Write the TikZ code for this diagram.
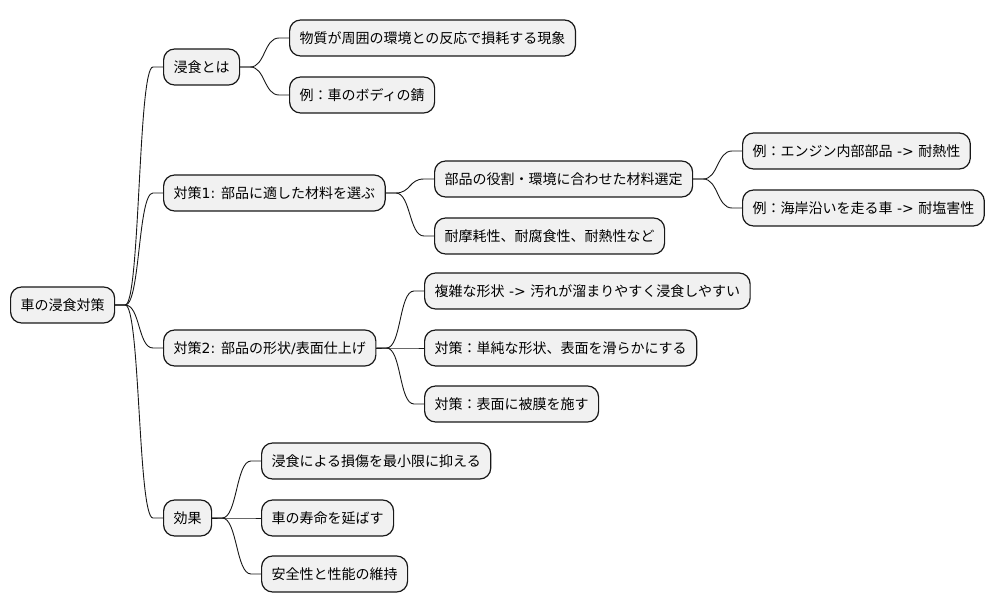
\documentclass[tikz,border=0pt]{standalone}
\usepackage{fontspec}
\setmainfont{Noto Sans CJK JP}
\newfontfamily\lat{DejaVu Sans}
\definecolor{boxfill}{HTML}{F1F1F1}
\definecolor{boxline}{HTML}{181818}
\tikzset{
  mmbox/.style={draw=boxline, fill=boxfill, line width=1.2pt, rounded corners=11pt,
    minimum height=36pt, inner xsep=10pt, inner ysep=0pt, anchor=west,
    font=\fontsize{14pt}{16pt}\selectfont, text=black},
  mmlink/.style={draw=boxline, line width=0.9pt}
}
\newcommand{\mmconn}[2]{\draw[mmlink] (#1.east) -- ++(10,0) .. controls +(15,0) and +(-15,0) .. ($(#2.west)+(-10,0)$) -- (#2.west);}
\usetikzlibrary{calc}
\begin{document}
\begin{tikzpicture}[x=1pt,y=-1pt]
\useasboundingbox (0,0) rectangle (994,612);
\node[mmbox] (root) at (10,305) {車の浸食対策};
\node[mmbox] (a) at (163,67) {浸食とは};
\node[mmbox] (a1) at (289,38) {物質が周囲の環境との反応で損耗する現象};
\node[mmbox] (a2) at (289,95) {例：車のボディの錆};
\node[mmbox] (b) at (163,193) {対策{\lat 1: }部品に適した材料を選ぶ};
\node[mmbox] (b1) at (434,179) {部品の役割・環境に合わせた材料選定};
\node[mmbox] (b11) at (742,151) {例：エンジン内部部品{\lat{} -> }耐熱性};
\node[mmbox] (b12) at (742,208) {例：海岸沿いを走る車{\lat{} -> }耐塩害性};
\node[mmbox] (b2) at (434,236) {耐摩耗性、耐腐食性、耐熱性など};
\node[mmbox] (c) at (163,348) {対策{\lat 2: }部品の形状{\lat /}表面仕上げ};
\node[mmbox] (c1) at (424,291) {複雑な形状{\lat{} -> }汚れが溜まりやすく浸食しやすい};
\node[mmbox] (c2) at (424,348) {対策：単純な形状、表面を滑らかにする};
\node[mmbox] (c3) at (424,404) {対策：表面に被膜を施す};
\node[mmbox] (d) at (163,518) {効果};
\node[mmbox] (d1) at (261,461) {浸食による損傷を最小限に抑える};
\node[mmbox] (d2) at (261,518) {車の寿命を延ばす};
\node[mmbox] (d3) at (261,574) {安全性と性能の維持};
\mmconn{root}{a}
\mmconn{root}{b}
\mmconn{root}{c}
\mmconn{root}{d}
\mmconn{a}{a1}
\mmconn{a}{a2}
\mmconn{b}{b1}
\mmconn{b}{b2}
\mmconn{b1}{b11}
\mmconn{b1}{b12}
\mmconn{c}{c1}
\mmconn{c}{c2}
\mmconn{c}{c3}
\mmconn{d}{d1}
\mmconn{d}{d2}
\mmconn{d}{d3}
\end{tikzpicture}
\end{document}
